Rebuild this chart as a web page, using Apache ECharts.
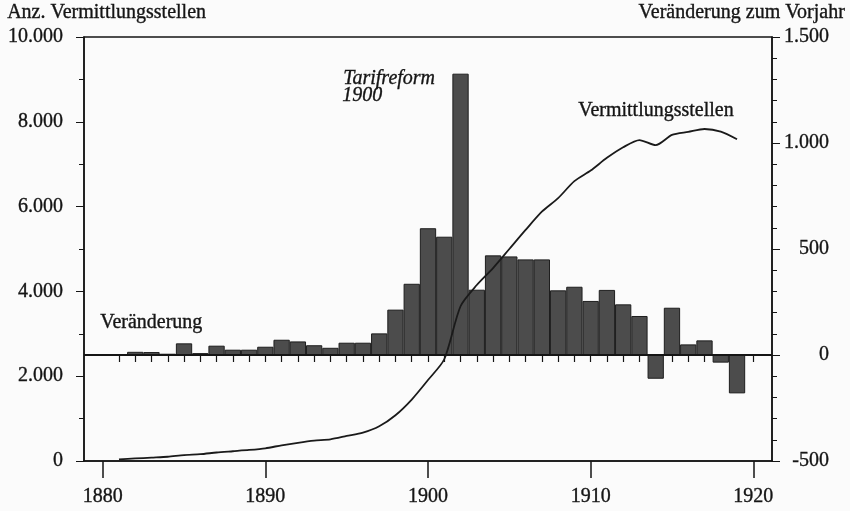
<!DOCTYPE html>
<html>
<head>
<meta charset="utf-8">
<script src="https://cdn.jsdelivr.net/npm/echarts@6/dist/echarts.min.js"></script>
<style>
  html, body { margin: 0; padding: 0; background: #fbfbfb; }
  #chart { width: 850px; height: 511px; }
</style>
</head>
<body>
<div id="chart"></div>
<script>
// Veränderung zum Vorjahr (Balken, rechte Achse)
const barYears = [1882, 1883, 1884, 1885, 1886, 1887, 1888, 1889, 1890, 1891,
  1892, 1893, 1894, 1895, 1896, 1897, 1898, 1899, 1900, 1901,
  1902, 1903, 1904, 1905, 1906, 1907, 1908, 1909, 1910, 1911,
  1912, 1913, 1914, 1915, 1916, 1917, 1918, 1919]
const changes = [15, 14, 6, 55, 9, 44, 25, 25, 39, 72,
  64, 46, 34, 58, 58, 102, 214, 336, 598, 558,
  1327, 308, 470, 465, 451, 451, 305, 322, 255, 307,
  239, 184, -112, 223, 50, 69, -36, -181]

// Anzahl Vermittlungsstellen (Linie, linke Achse)
const lineYears = [1881, 1882, 1883, 1884, 1885, 1886, 1887, 1888, 1889, 1890,
  1891, 1892, 1893, 1894, 1895, 1896, 1897, 1898, 1899, 1900,
  1901, 1902, 1903, 1904, 1905, 1906, 1907, 1908, 1909, 1910,
  1911, 1912, 1913, 1914, 1915, 1916, 1917, 1918, 1919]
const stations = [40, 60, 80, 100, 140, 160, 200, 230, 260, 300,
  370, 430, 480, 510, 590, 670, 820, 1080, 1450, 1910,
  2400, 3650, 4150, 4550, 5000, 5450, 5880, 6200, 6600, 6850,
  7150, 7400, 7570, 7450, 7690, 7760, 7830, 7770, 7590]

const decadeTicks = [1880, 1890, 1900, 1910, 1920]
const yearTicks = []
for (let y = 1881; y <= 1920; y++) yearTicks.push(y)

const font = 'Liberation Serif'
const ink = '#151515'
const heavy = { textBorderColor: ink, textBorderWidth: 0.35 }

function dotted(v) {
  return String(v).replace(/\B(?=(\d{3})+(?!\d))/g, '.')
}

function label(text, pos, extra) {
  return Object.assign({
    type: 'text',
    style: Object.assign({ text: text, font: '20px "Liberation Serif"', fill: ink, stroke: ink, lineWidth: 0.35 }, extra || {})
  }, pos)
}

const chart = echarts.init(document.getElementById('chart'), null, { renderer: 'canvas' })
chart.setOption({
  backgroundColor: '#fbfbfb',
  animation: false,
  textStyle: { fontFamily: font, color: ink },
  grid: {
    left: 84,
    right: 78,
    top: 37,
    bottom: 50,
    show: true,
    borderColor: ink,
    borderWidth: 1.5
  },
  xAxis: [
    {
      type: 'value',
      min: 1878.85,
      max: 1921.15,
      position: 'bottom',
      splitLine: { show: false },
      axisLine: { show: true, lineStyle: { color: ink, width: 1.5 } },
      axisTick: { show: true, customValues: decadeTicks, length: 17, lineStyle: { color: ink, width: 1.5 } },
      axisLabel: Object.assign({
        customValues: decadeTicks,
        margin: 26,
        fontSize: 20,
        fontFamily: font,
        color: ink,
        formatter: v => String(v)
      }, heavy)
    },
    {
      type: 'value',
      min: 1878.85,
      max: 1921.15,
      position: 'bottom',
      offset: 0,
      splitLine: { show: false },
      axisLine: { show: false },
      axisTick: { show: true, customValues: yearTicks, length: 7, lineStyle: { color: ink, width: 1.2 } },
      axisLabel: { show: false }
    }
  ],
  yAxis: [
    {
      type: 'value',
      min: 0,
      max: 10000,
      interval: 2000,
      position: 'left',
      splitLine: { show: false },
      axisLine: { show: true, lineStyle: { color: ink, width: 1.5 } },
      axisTick: { show: true, length: 8, lineStyle: { color: ink } },
      minorTick: { show: true, splitNumber: 2, length: 5, lineStyle: { color: ink } },
      axisLabel: Object.assign({ margin: 21, fontSize: 20, fontFamily: font, color: ink, formatter: dotted }, heavy)
    },
    {
      type: 'value',
      min: -500,
      max: 1500,
      interval: 500,
      position: 'right',
      splitLine: { show: false },
      axisLine: { show: true, lineStyle: { color: ink, width: 1.5 } },
      axisTick: { show: true, length: 8, lineStyle: { color: ink } },
      minorTick: { show: true, splitNumber: 5, length: 5, lineStyle: { color: ink } },
      axisLabel: Object.assign({ margin: 57, align: 'right', fontSize: 20, fontFamily: font, color: ink, formatter: dotted }, heavy)
    }
  ],
  series: [
    {
      name: 'Veränderung',
      type: 'bar',
      xAxisIndex: 0,
      yAxisIndex: 1,
      barWidth: 16.3,
      itemStyle: { color: '#4c4c4c', borderColor: '#1e1e1e', borderWidth: 1 },
      data: barYears.map((y, i) => [y, changes[i]]),
      markLine: {
        silent: true,
        symbol: 'none',
        label: { show: false },
        lineStyle: { color: ink, width: 2, type: 'solid' },
        data: [{ yAxis: 0 }]
      },
      z: 2
    },
    {
      name: 'Vermittlungsstellen',
      type: 'line',
      xAxisIndex: 0,
      yAxisIndex: 0,
      smooth: 0.25,
      symbol: 'none',
      lineStyle: { color: '#1a1a1a', width: 1.8 },
      data: lineYears.map((y, i) => [y, stations[i]]),
      z: 3
    }
  ],
  graphic: [
    label('Anz. Vermittlungsstellen', { left: 7, top: 3 }),
    label('Veränderung zum Vorjahr', { right: 5, top: 3 }),
    label('Veränderung', { left: 100, top: 313 }),
    label('Tarifreform', { left: 343, top: 69 }, { font: 'italic 20px "Liberation Serif"' }),
    label('1900', { left: 342, top: 86 }, { font: 'italic 20px "Liberation Serif"' }),
    label('Vermittlungsstellen', { left: 578, top: 101 })
  ]
})
</script>
</body>
</html>
